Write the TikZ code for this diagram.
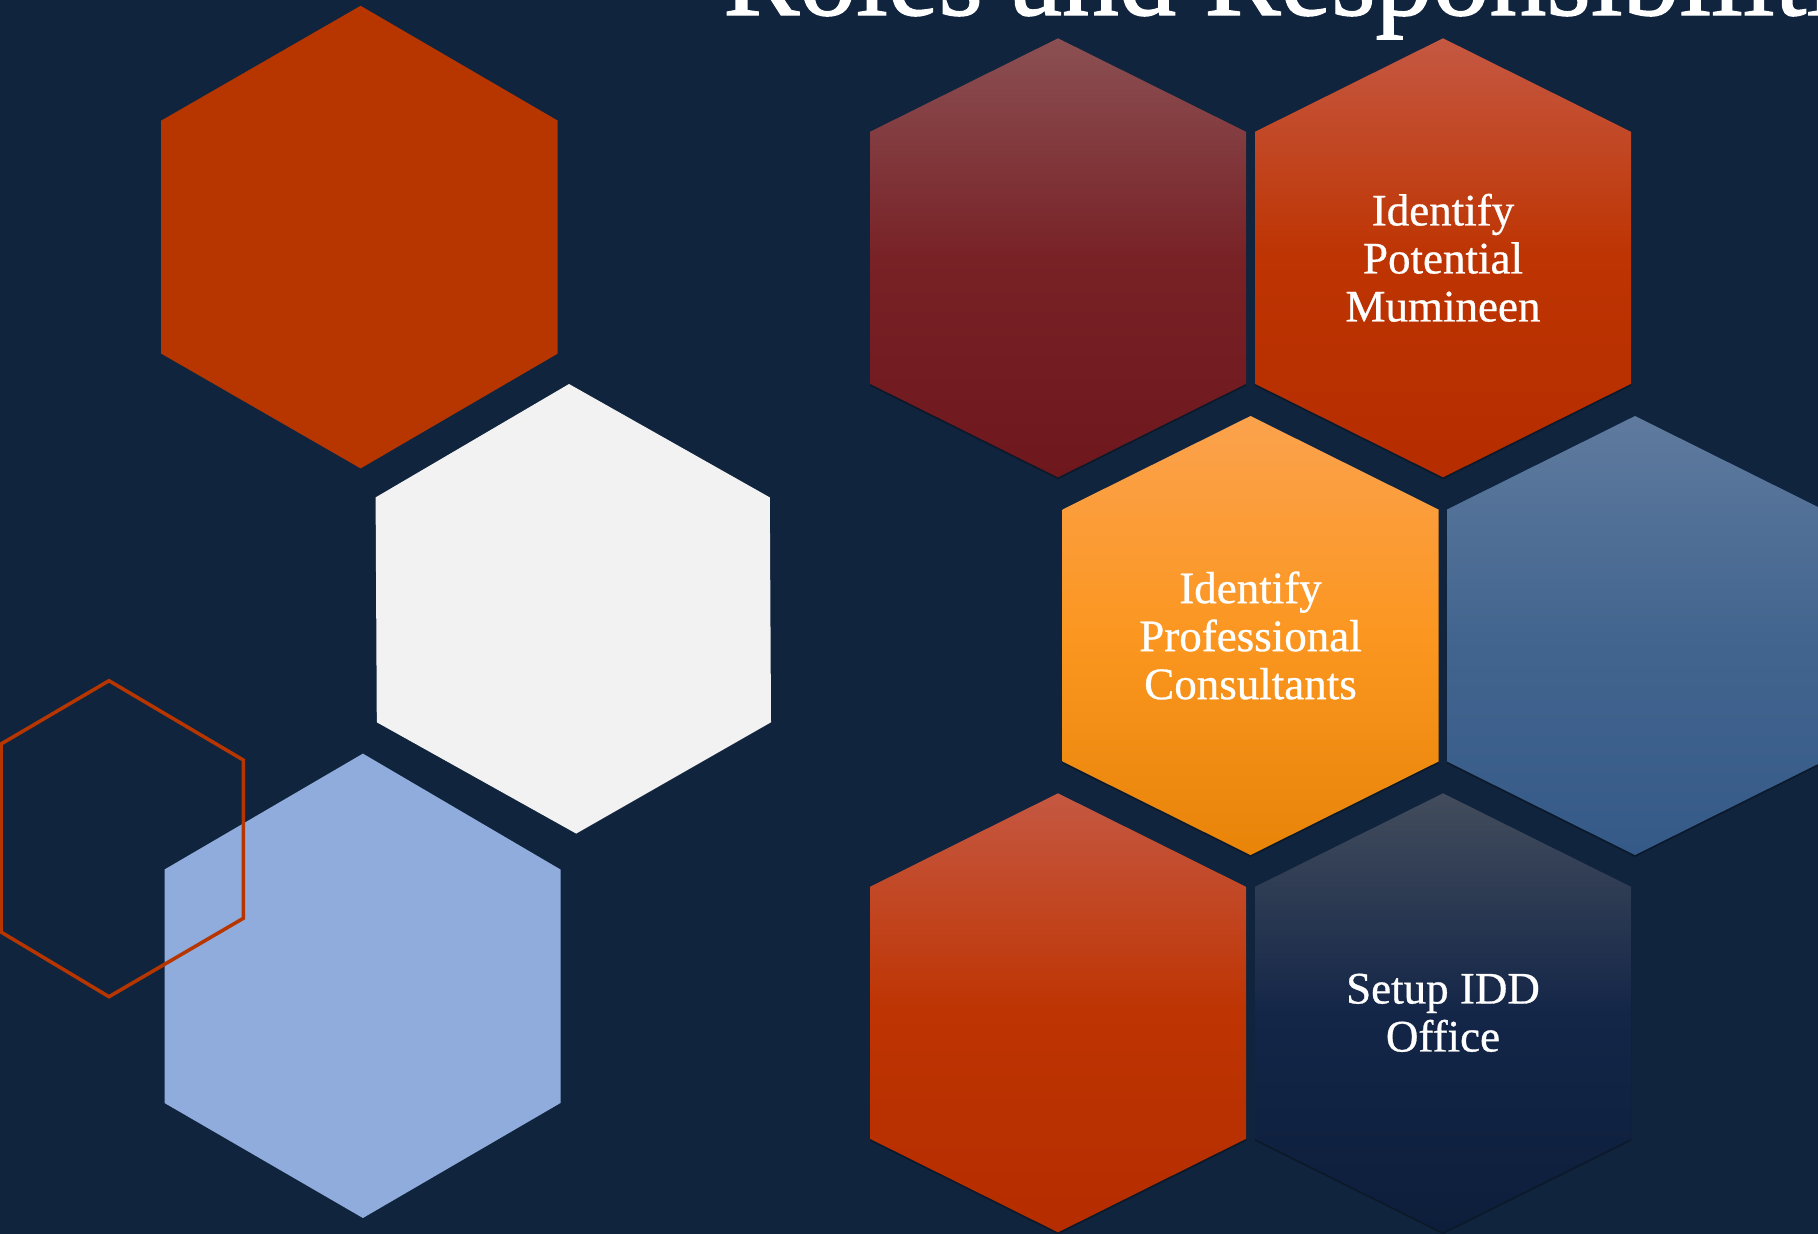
\documentclass[tikz,border=0pt]{standalone}
\usepackage{fontspec}
\setmainfont{Liberation Serif}
\newfontfamily\cellfont{Liberation Serif}[FakeBold=0.7]
\newfontfamily\headfont{Liberation Serif}[FakeBold=1.2]
\usetikzlibrary{shadows}

\definecolor{slidebg}{RGB}{16,36,61}
\definecolor{rust}{RGB}{183,54,0}
\definecolor{offwhite}{RGB}{242,242,242}
\definecolor{paleblue}{RGB}{143,172,220}
\definecolor{wineTop}{RGB}{139,80,83}
\definecolor{wineMid}{RGB}{120,34,38}
\definecolor{wineBot}{RGB}{110,24,30}
\definecolor{rustTop}{RGB}{197,88,66}
\definecolor{rustMid}{RGB}{190,52,2}
\definecolor{rustBot}{RGB}{181,45,0}
\definecolor{amberTop}{RGB}{251,162,77}
\definecolor{amberMid}{RGB}{251,150,32}
\definecolor{amberBot}{RGB}{232,132,8}
\definecolor{steelTop}{RGB}{95,122,158}
\definecolor{steelMid}{RGB}{66,101,143}
\definecolor{steelBot}{RGB}{54,90,136}
\definecolor{navyTop}{RGB}{66,76,92}
\definecolor{navyMid}{RGB}{20,38,72}
\definecolor{navyBot}{RGB}{12,30,58}

\tikzset{
  hexlabel/.style={text=white, align=center, font=\cellfont\fontsize{45}{48}\selectfont},
  hexshadow/.style={drop shadow={shadow xshift=0pt, shadow yshift=-2pt, opacity=.3, fill=black}},
}

% one cell of the honeycomb, around a named centre
\newcommand{\hexcell}[1]{(#1) ++(0,-219.5) -- ++(188,93.5) -- ++(0,252) -- ++(-188,93.5) -- ++(-188,-93.5) -- ++(0,-252) -- cycle}

\begin{document}
\begin{tikzpicture}[x=1pt,y=-1pt]
    \clip (0,0) rectangle (1818,1234);
    \fill[slidebg] (0,0) rectangle (1818,1234);

    % left side
    \fill[rust] (360.6,5.8) -- (557.7,120.6) -- (557.7,353.6) -- (360.6,468.4) -- (161.2,353.6) -- (161.2,120.6) -- cycle;
    \fill[offwhite] (569,384) -- (769.8,497.4) -- (771,722.3) -- (576.2,833.6) -- (376.8,722.3) -- (375.6,497.4) -- cycle;
    \fill[paleblue] (362.9,753.6) -- (560.5,869.5) -- (560.5,1103) -- (362.9,1218) -- (164.5,1103) -- (164.5,869.5) -- cycle;
    \draw[rust, line width=3.5pt, line join=miter] (109,680.7) -- (243.3,760) -- (243.3,918.3) -- (109,996.7) -- (1,932) -- (1,744) -- cycle;

    \node[anchor=base west, text=white, font=\headfont\fontsize{114}{120}\selectfont, inner sep=0pt] (title) at (723,15) {Roles and Responsibilities};

    % honeycomb
    \coordinate (c1) at (1058,257.8);
    \coordinate (c2) at (1443,257.8);
    \coordinate (c3) at (1250.5,635.5);
    \coordinate (c4) at (1635,635.5);
    \coordinate (c5) at (1058,1012.8);
    \coordinate (c6) at (1443,1012.8);

    \path[hexshadow, top color=wineTop, bottom color=wineBot, middle color=wineMid] \hexcell{c1};
    \path[hexshadow, top color=rustTop, bottom color=rustBot, middle color=rustMid] \hexcell{c2};
    \path[hexshadow, top color=amberTop, bottom color=amberBot, middle color=amberMid] \hexcell{c3};
    \path[hexshadow, top color=steelTop, bottom color=steelBot, middle color=steelMid] \hexcell{c4};
    \path[hexshadow, top color=rustTop, bottom color=rustBot, middle color=rustMid] \hexcell{c5};
    \path[hexshadow, top color=navyTop, bottom color=navyBot, middle color=navyMid] \hexcell{c6};

    \node[hexlabel] (mumineen) at (c2) {Identify\\Potential\\Mumineen};
    \node[hexlabel] (consultants) at (c3) {Identify\\Professional\\Consultants};
    \node[hexlabel] (office) at (c6) {Setup IDD\\Office};
\end{tikzpicture}
\end{document}
